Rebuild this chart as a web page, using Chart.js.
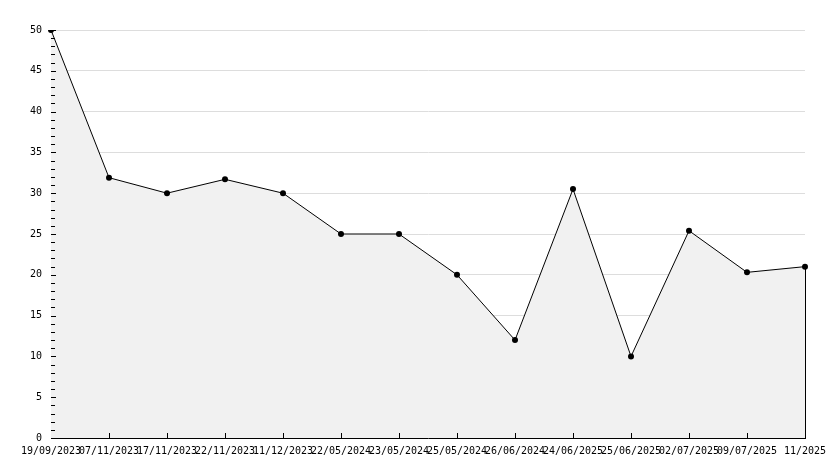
<!DOCTYPE html>
<html>
<head>
<meta charset="utf-8">
<script src="https://cdn.jsdelivr.net/npm/chart.js@4/dist/chart.umd.min.js"></script>
<style>
  html, body { margin: 0; padding: 0; background: #fff; }
  #wrap { width: 834px; height: 468px; }
</style>
</head>
<body>
<div id="wrap"><canvas id="chart"></canvas></div>
<script>
var labels = [
    '19/09/2023', '07/11/2023', '17/11/2023', '22/11/2023', '11/12/2023',
    '22/05/2024', '23/05/2024', '25/05/2024', '26/06/2024', '24/06/2025',
    '25/06/2025', '02/07/2025', '09/07/2025', '11/2025'
];
var values = [50, 31.9, 30, 31.7, 30, 25, 25, 20, 12, 30.5, 10, 25.4, 20.3, 21];
var yTicks = [0, 5, 10, 15, 20, 25, 30, 35, 40, 45, 50];

// little ticks drawn inside the plot, like the original
var innerTicks = {
    id: 'innerTicks',
    afterDatasetsDraw: function (chart) {
        var ctx = chart.ctx, x = chart.scales.x, y = chart.scales.y;
        var a = chart.chartArea;
        ctx.save();
        ctx.strokeStyle = '#000';
        ctx.lineWidth = 1;
        ctx.beginPath();
        for (var v = 0; v <= 50; v++) {
            var py = Math.round(y.getPixelForValue(v)) + 0.5;
            var len = (v % 5 === 0) ? 5 : 4;
            ctx.moveTo(a.left, py);
            ctx.lineTo(a.left + len, py);
        }
        for (var i = 1; i < labels.length - 1; i++) {
            var px = Math.round(x.getPixelForValue(i)) + 0.5;
            ctx.moveTo(px, a.bottom);
            ctx.lineTo(px, a.bottom - 5);
        }
        // closing edge of the filled area on the right
        var last = labels.length - 1;
        var ex = Math.round(x.getPixelForValue(last)) + 0.5;
        ctx.moveTo(ex, y.getPixelForValue(values[last]));
        ctx.lineTo(ex, a.bottom);
        ctx.stroke();
        ctx.restore();
    }
};

var config = {
    type: 'line',
    data: {
        labels: labels,
        datasets: [{
            data: values,
            borderColor: '#000',
            borderWidth: 1,
            backgroundColor: '#f1f1f1',
            fill: 'origin',
            tension: 0,
            pointRadius: 3,
            pointBackgroundColor: '#000',
            pointBorderColor: '#000',
            pointBorderWidth: 0
        }]
    },
    options: {
        responsive: true,
        maintainAspectRatio: false,
        animation: false,
        layout: { padding: { top: 30, right: 29, left: 0, bottom: 0 } },
        plugins: {
            legend: { display: false },
            tooltip: { enabled: false }
        },
        scales: {
            x: {
                offset: false,
                grid: { display: false, drawTicks: false },
                border: { display: true, color: '#000', width: 1 },
                ticks: {
                    autoSkip: false,
                    maxRotation: 0,
                    padding: 7,
                    color: '#000',
                    font: { family: 'DejaVu Sans Mono', size: 10 }
                },
                afterFit: function (s) { s.height = 30; }
            },
            y: {
                min: 0,
                max: 50,
                afterBuildTicks: function (s) {
                    s.ticks = yTicks.map(function (v) { return { value: v }; });
                },
                grid: { color: '#dddddd', drawTicks: false },
                border: { display: true, color: '#000', width: 1 },
                ticks: {
                    padding: 9,
                    color: '#000',
                    font: { family: 'DejaVu Sans Mono', size: 10 }
                },
                afterFit: function (s) { s.width = 51; }
            }
        }
    },
    plugins: [innerTicks]
};

window.onload = function () {
    var ctx = document.getElementById('chart').getContext('2d');
    window.myLine = new Chart(ctx, config);
};
</script>
</body>
</html>
